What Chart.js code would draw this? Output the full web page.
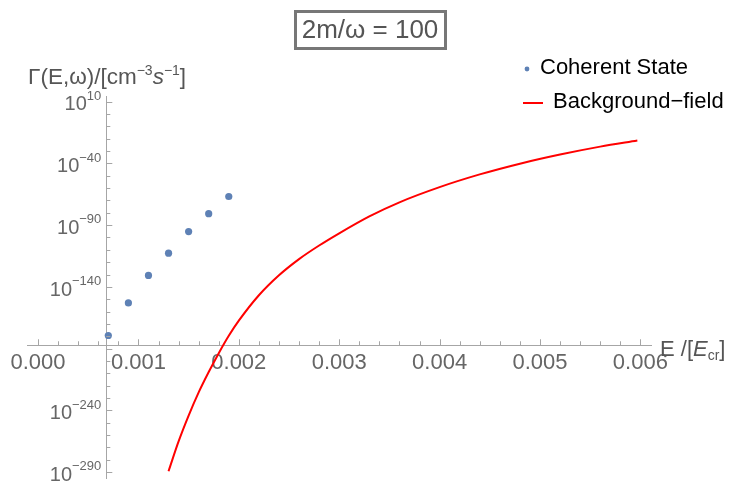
<!DOCTYPE html>
<html lang="en">
<head>
<meta charset="UTF-8">
<title>Coherent state vs background field</title>
<style>
    body { margin: 0; background: #fff; }
    #wrap { width: 731px; height: 482px; position: relative; }
</style>
</head>
<body>
<div id="wrap"><canvas id="rate-chart"></canvas></div>
<script src="https://cdn.jsdelivr.net/npm/chart.js"></script>
<script>
    // values are log10 of Gamma
    const coherentE = [0.0007, 0.0009, 0.0011, 0.0013, 0.0015, 0.0017, 0.0019];
    const coherentExp = [-179.4, -153, -130.7, -112.7, -95.2, -80.7, -66.8];

    const backgroundE = [0.0013, 0.0014, 0.0015, 0.0016, 0.0017, 0.0018, 0.0019, 0.0020,
        0.0022, 0.0024, 0.0026, 0.0028, 0.0030, 0.0033, 0.0036, 0.0040, 0.0044,
        0.0048, 0.0052, 0.0056, 0.00597];
    const backgroundExp = [-289.3, -265.2, -244.3, -225.5, -209, -193.7, -179.6, -167.4,
        -146.8, -130.6, -117.5, -106.5, -96.6, -82.9, -71.5, -59.2, -48.9,
        -40.2, -32.8, -26.4, -21.4];

    const seriesNames = ['Coherent State', 'Background\u2212field'];
    const yLabelExps = [10, -40, -90, -140, -240, -290];
    const xLabelTicks = [0, 0.001, 0.002, 0.003, 0.004, 0.005, 0.006];
    const titleText = '2m/\u03c9 = 100';

    const FONT = '"Liberation Sans", Arial, sans-serif';
    const AXIS_GRAY = '#a6a6a6';
    const TEXT_GRAY = '#666666';

    const toXY = (xs, ys) => xs.map((x, i) => ({ x: x, y: ys[i] }));

    // draws tick marks, y labels with exponents, axis titles, legend and title box
    const decorations = {
        id: 'decorations',
        afterDraw(chart) {
            const c = chart.ctx;
            const xs = chart.scales.x, ys = chart.scales.y;
            const axisY = ys.getPixelForValue(-187.3);
            const axisX = xs.getPixelForValue(0.00068);

            c.save();
            c.strokeStyle = AXIS_GRAY;
            c.lineWidth = 1;
            c.beginPath();
            xs.ticks.forEach(t => {
                const px = Math.round(xs.getPixelForValue(t.value)) + 0.5;
                const major = Math.abs(Math.round(t.value / 0.0002)) % 5 === 0;
                c.moveTo(px, axisY);
                c.lineTo(px, axisY - (major ? 6 : 4));
            });
            ys.ticks.forEach(t => {
                const py = Math.round(ys.getPixelForValue(t.value)) + 0.5;
                const major = Math.abs(Math.round(t.value) - 10) % 50 === 0;
                c.moveTo(axisX, py);
                c.lineTo(axisX + (major ? 6 : 4), py);
            });
            c.stroke();

            // y tick labels: 10 with a raised exponent
            c.fillStyle = TEXT_GRAY;
            c.textBaseline = 'alphabetic';
            yLabelExps.forEach(e => {
                const py = ys.getPixelForValue(e);
                const sup = (e < 0 ? '\u2212' : '') + Math.abs(e);
                c.font = '13px ' + FONT;
                const supW = c.measureText(sup).width;
                const right = axisX - 5;
                c.textAlign = 'right';
                c.fillText(sup, right, py - 1.7);
                c.font = '20px ' + FONT;
                c.fillText('10', right - supW, py + 8.8);
            });

            // axis titles
            c.textAlign = 'left';
            c.fillStyle = '#555555';
            let x = 28;
            const run = (txt, font, dy) => {
                c.font = font;
                c.fillText(txt, x, 84 + dy);
                x += c.measureText(txt).width;
            };
            run('\u0393(E,\u03c9)/[cm', '22.5px ' + FONT, 0);
            run('\u22123', '14px ' + FONT, -9);
            run('s', 'italic 22.5px ' + FONT, 0);
            run('\u22121', '14px ' + FONT, -9);
            run(']', '22.5px ' + FONT, 0);

            x = 660;
            const runE = (txt, font, dy) => {
                c.font = font;
                c.fillText(txt, x, 356 + dy);
                x += c.measureText(txt).width;
            };
            runE('E /[', '22px ' + FONT, 0);
            runE('E', 'italic 22px ' + FONT, 0);
            runE('cr', '14px ' + FONT, 4);
            runE(']', '22px ' + FONT, 0);

            // legend
            c.fillStyle = '#5e81b5';
            c.beginPath();
            c.arc(527, 69, 2.4, 0, Math.PI * 2);
            c.fill();
            c.strokeStyle = '#ff0000';
            c.lineWidth = 2;
            c.beginPath();
            c.moveTo(523, 103);
            c.lineTo(543, 103);
            c.stroke();
            c.fillStyle = '#000000';
            c.font = '22px ' + FONT;
            c.textBaseline = 'middle';
            c.fillText(seriesNames[0], 540, 68);
            c.fillText(seriesNames[1], 553, 102);

            // title box
            c.font = '26px ' + FONT;
            c.textAlign = 'center';
            c.fillStyle = '#555555';
            c.fillText(titleText, 370, 31);
            c.strokeStyle = '#777777';
            c.lineWidth = 3;
            c.strokeRect(295.5, 11.5, 150, 37);
            c.restore();
        }
    };

    const ctx = document.getElementById('rate-chart').getContext('2d');
    new Chart(ctx, {
        type: 'scatter',
        data: {
            datasets: [{
                label: seriesNames[0],
                data: toXY(coherentE, coherentExp),
                backgroundColor: '#5e81b5',
                borderWidth: 0,
                pointRadius: 3.6,
                showLine: false
            }, {
                label: seriesNames[1],
                data: toXY(backgroundE, backgroundExp),
                borderColor: '#ff0000',
                borderWidth: 2,
                pointRadius: 0,
                showLine: true,
                cubicInterpolationMode: 'monotone'
            }]
        },
        options: {
            responsive: true,
            maintainAspectRatio: false,
            animation: false,
            layout: { padding: { left: 27, right: 80, top: 96, bottom: 2 } },
            plugins: { legend: { display: false }, tooltip: { enabled: false } },
            scales: {
                x: {
                    type: 'linear',
                    position: { y: -187.3 },
                    min: -0.00011,
                    max: 0.006106,
                    afterFit: s => { s.height = 0; },
                    grid: { drawOnChartArea: false, drawTicks: false },
                    border: { display: true, color: AXIS_GRAY, width: 1 },
                    ticks: {
                        stepSize: 0.0002,
                        includeBounds: false,
                        autoSkip: false,
                        maxRotation: 0,
                        padding: 4,
                        color: TEXT_GRAY,
                        font: { family: FONT, size: 22 },
                        callback: v => {
                            const k = Math.round(v / 0.0002);
                            return k % 5 === 0 && xLabelTicks.includes(k / 5000) ? (k / 5000).toFixed(3) : '';
                        }
                    }
                },
                y: {
                    type: 'linear',
                    position: { x: 0.00068 },
                    min: -294.8,
                    max: 14.6,
                    afterFit: s => { s.width = 0; },
                    grid: { drawOnChartArea: false, drawTicks: false },
                    border: { display: true, color: AXIS_GRAY, width: 1 },
                    ticks: {
                        display: false,
                        stepSize: 10,
                        includeBounds: false,
                        autoSkip: false
                    }
                }
            }
        },
        plugins: [decorations]
    });
</script>
</body>
</html>
